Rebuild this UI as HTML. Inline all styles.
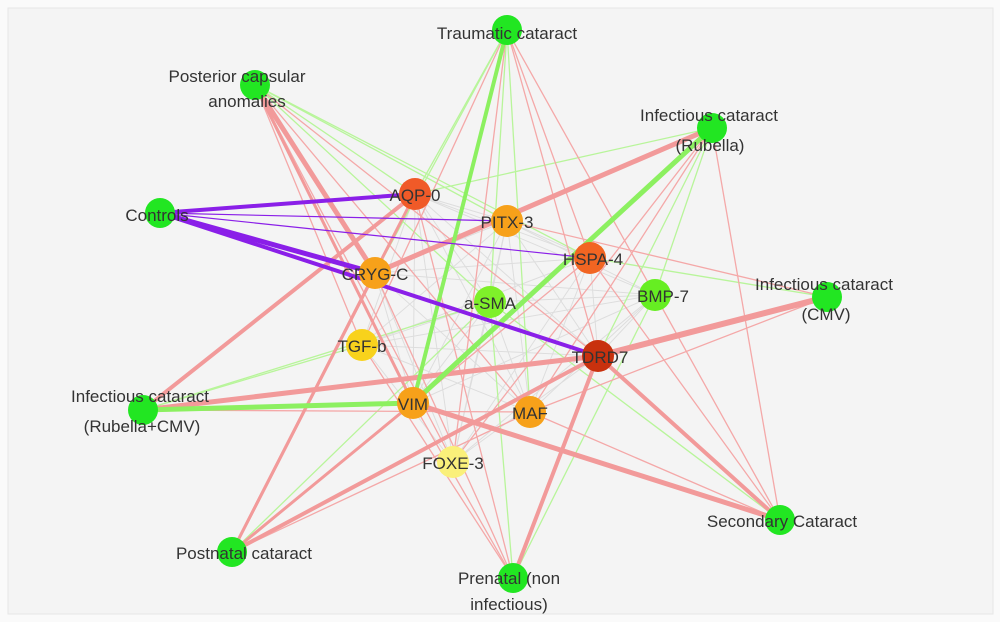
<!DOCTYPE html>
<html><head><style>
html,body{margin:0;padding:0;background:#fff;}
svg{display:block}
text{font-family:"Liberation Sans",sans-serif;font-size:17px;fill:#333;}
</style></head><body>
<svg width="1000" height="622" viewBox="0 0 1000 622">
<rect x="0" y="0" width="1000" height="622" fill="#fafafa"/>
<rect x="8" y="8" width="985" height="606" fill="#f4f4f4" stroke="#e6e6e6"/>
<g stroke="#d8d8d8" stroke-width="1" opacity="0.8">
<line x1="415" y1="194" x2="507" y2="221"/><line x1="415" y1="194" x2="590" y2="258"/><line x1="415" y1="194" x2="375" y2="273"/><line x1="415" y1="194" x2="490" y2="302"/><line x1="415" y1="194" x2="598" y2="356"/><line x1="415" y1="194" x2="413" y2="403"/><line x1="415" y1="194" x2="530" y2="412"/><line x1="415" y1="194" x2="453" y2="462"/><line x1="415" y1="194" x2="362" y2="345"/><line x1="415" y1="194" x2="655" y2="295"/>
<line x1="507" y1="221" x2="375" y2="273"/><line x1="507" y1="221" x2="490" y2="302"/><line x1="507" y1="221" x2="598" y2="356"/><line x1="507" y1="221" x2="413" y2="403"/><line x1="507" y1="221" x2="530" y2="412"/><line x1="507" y1="221" x2="453" y2="462"/><line x1="507" y1="221" x2="362" y2="345"/><line x1="507" y1="221" x2="655" y2="295"/><line x1="507" y1="221" x2="590" y2="258"/>
<line x1="590" y1="258" x2="375" y2="273"/><line x1="590" y1="258" x2="413" y2="403"/><line x1="590" y1="258" x2="530" y2="412"/><line x1="590" y1="258" x2="453" y2="462"/><line x1="590" y1="258" x2="362" y2="345"/><line x1="590" y1="258" x2="598" y2="356"/>
<line x1="375" y1="273" x2="530" y2="412"/><line x1="375" y1="273" x2="453" y2="462"/><line x1="375" y1="273" x2="655" y2="295"/><line x1="375" y1="273" x2="413" y2="403"/>
<line x1="490" y1="302" x2="413" y2="403"/><line x1="490" y1="302" x2="530" y2="412"/><line x1="490" y1="302" x2="453" y2="462"/><line x1="490" y1="302" x2="362" y2="345"/><line x1="490" y1="302" x2="655" y2="295"/>
<line x1="362" y1="345" x2="598" y2="356"/><line x1="362" y1="345" x2="530" y2="412"/><line x1="362" y1="345" x2="453" y2="462"/><line x1="362" y1="345" x2="655" y2="295"/>
<line x1="598" y1="356" x2="453" y2="462"/><line x1="598" y1="356" x2="655" y2="295"/><line x1="413" y1="403" x2="655" y2="295"/><line x1="530" y1="412" x2="655" y2="295"/><line x1="453" y1="462" x2="655" y2="295"/>
</g>
<g stroke="#b8f59a" stroke-width="1.3">
<line x1="255" y1="85" x2="415" y2="194"/><line x1="255" y1="85" x2="507" y2="221"/><line x1="255" y1="85" x2="490" y2="302"/><line x1="255" y1="85" x2="590" y2="258"/>
<line x1="507" y1="30" x2="415" y2="194"/><line x1="507" y1="30" x2="375" y2="273"/><line x1="507" y1="30" x2="490" y2="302"/><line x1="507" y1="30" x2="530" y2="412"/>
<line x1="712" y1="128" x2="415" y2="194"/><line x1="712" y1="128" x2="655" y2="295"/><line x1="712" y1="128" x2="598" y2="356"/>
<line x1="143" y1="410" x2="490" y2="302"/><line x1="143" y1="410" x2="362" y2="345"/><line x1="780" y1="520" x2="413" y2="403"/><line x1="780" y1="520" x2="490" y2="302"/>
<line x1="232" y1="552" x2="490" y2="302"/><line x1="513" y1="578" x2="490" y2="302"/><line x1="513" y1="578" x2="655" y2="295"/><line x1="827" y1="297" x2="590" y2="258"/>
</g>
<g stroke="#f4a8a8" stroke-width="1.3">
<line x1="255" y1="85" x2="598" y2="356"/><line x1="255" y1="85" x2="530" y2="412"/><line x1="255" y1="85" x2="453" y2="462"/><line x1="255" y1="85" x2="362" y2="345"/>
<line x1="507" y1="30" x2="598" y2="356"/><line x1="507" y1="30" x2="590" y2="258"/><line x1="507" y1="30" x2="655" y2="295"/><line x1="507" y1="30" x2="453" y2="462"/><line x1="507" y1="30" x2="362" y2="345"/>
<line x1="712" y1="128" x2="530" y2="412"/><line x1="712" y1="128" x2="453" y2="462"/><line x1="712" y1="128" x2="780" y2="520"/>
<line x1="827" y1="297" x2="507" y2="221"/><line x1="827" y1="297" x2="530" y2="412"/>
<line x1="780" y1="520" x2="590" y2="258"/><line x1="780" y1="520" x2="655" y2="295"/><line x1="780" y1="520" x2="530" y2="412"/>
<line x1="513" y1="578" x2="375" y2="273"/><line x1="513" y1="578" x2="413" y2="403"/><line x1="513" y1="578" x2="415" y2="194"/><line x1="513" y1="578" x2="362" y2="345"/>
<line x1="232" y1="552" x2="530" y2="412"/><line x1="232" y1="552" x2="590" y2="258"/><line x1="143" y1="410" x2="530" y2="412"/>
</g>
<g stroke="#f29a9a" stroke-linecap="round">
<line x1="255" y1="85" x2="375" y2="273" stroke-width="5"/>
<line x1="255" y1="85" x2="413" y2="403" stroke-width="3"/>
<line x1="712" y1="128" x2="375" y2="273" stroke-width="5"/>
<line x1="827" y1="297" x2="598" y2="356" stroke-width="6"/>
<line x1="143" y1="410" x2="598" y2="356" stroke-width="5"/>
<line x1="143" y1="410" x2="415" y2="194" stroke-width="4"/>
<line x1="232" y1="552" x2="415" y2="194" stroke-width="3"/>
<line x1="232" y1="552" x2="375" y2="273" stroke-width="3"/>
<line x1="232" y1="552" x2="598" y2="356" stroke-width="4"/>
<line x1="232" y1="552" x2="413" y2="403" stroke-width="3"/>
<line x1="780" y1="520" x2="413" y2="403" stroke-width="5"/>
<line x1="780" y1="520" x2="598" y2="356" stroke-width="4"/>
<line x1="513" y1="578" x2="598" y2="356" stroke-width="4"/>
</g>
<g stroke="#8cf060" stroke-linecap="round">
<line x1="143" y1="410" x2="413" y2="403" stroke-width="5"/>
<line x1="712" y1="128" x2="413" y2="403" stroke-width="5"/>
<line x1="507" y1="30" x2="413" y2="403" stroke-width="4"/>
</g>
<g stroke="#8a1fe8" stroke-linecap="round">
<line x1="160" y1="213" x2="415" y2="194" stroke-width="4"/>
<line x1="160" y1="213" x2="375" y2="273" stroke-width="5"/>
<line x1="160" y1="213" x2="598" y2="356" stroke-width="4"/>
<line x1="160" y1="213" x2="507" y2="221" stroke-width="1.2"/>
<line x1="160" y1="213" x2="590" y2="258" stroke-width="1.2"/>
</g>
<g>
<circle cx="507" cy="30" r="15" fill="#22e622"/>
<circle cx="255" cy="85" r="15" fill="#22e622"/>
<circle cx="712" cy="128" r="15" fill="#22e622"/>
<circle cx="160" cy="213" r="15" fill="#22e622"/>
<circle cx="827" cy="297" r="15" fill="#22e622"/>
<circle cx="143" cy="410" r="15" fill="#22e622"/>
<circle cx="780" cy="520" r="15" fill="#22e622"/>
<circle cx="232" cy="552" r="15" fill="#22e622"/>
<circle cx="513" cy="578" r="15" fill="#22e622"/>
<circle cx="415" cy="194" r="16" fill="#f05a28"/>
<circle cx="507" cy="221" r="16" fill="#f7a11a"/>
<circle cx="590" cy="258" r="16" fill="#f26522"/>
<circle cx="375" cy="273" r="16" fill="#f7a11a"/>
<circle cx="490" cy="302" r="16" fill="#7ff02a"/>
<circle cx="655" cy="295" r="16" fill="#66ee22"/>
<circle cx="362" cy="345" r="16" fill="#f8d21c"/>
<circle cx="598" cy="356" r="16" fill="#c8310e"/>
<circle cx="413" cy="403" r="16" fill="#f7a11a"/>
<circle cx="530" cy="412" r="16" fill="#f7a11a"/>
<circle cx="453" cy="462" r="16" fill="#faf07a"/>
</g>
<g text-anchor="middle">
<text x="507" y="39">Traumatic cataract</text>
<text x="237" y="82">Posterior capsular</text><text x="247" y="107">anomalies</text>
<text x="709" y="121">Infectious cataract</text><text x="710" y="151">(Rubella)</text>
<text x="157" y="221">Controls</text>
<text x="824" y="290">Infectious cataract</text><text x="826" y="320">(CMV)</text>
<text x="140" y="402">Infectious cataract</text><text x="142" y="432">(Rubella+CMV)</text>
<text x="782" y="527">Secondary Cataract</text>
<text x="244" y="559">Postnatal cataract</text>
<text x="509" y="584">Prenatal (non</text><text x="509" y="610">infectious)</text>
<text x="415" y="201">AQP-0</text>
<text x="507" y="228">PITX-3</text>
<text x="593" y="265">HSPA-4</text>
<text x="375" y="280">CRYG-C</text>
<text x="490" y="309">a-SMA</text>
<text x="663" y="302">BMP-7</text>
<text x="362" y="352">TGF-b</text>
<text x="600" y="363">TDRD7</text>
<text x="413" y="410">VIM</text>
<text x="530" y="419">MAF</text>
<text x="453" y="469">FOXE-3</text>
</g>
</svg>
</body></html>
